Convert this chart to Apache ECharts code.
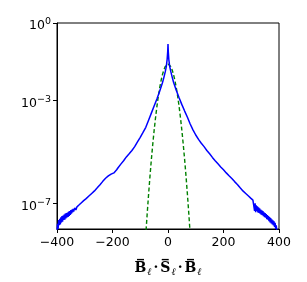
<!DOCTYPE html>
<html><head><meta charset="utf-8">
<script src="https://cdn.jsdelivr.net/npm/echarts@6/dist/echarts.min.js"></script>
<style>html,body{margin:0;padding:0;background:#fff}#c{width:307px;height:282px}</style>
</head><body><div id="c"></div>
<script>
var xTicks = [-400, -200, 0, 200, 400];
var yTickValues = [1, 1e-3, 1e-7];

var blueX = [-400,-398,-396,-394,-392,-390,-388,-386,-384,-382,-380,-378,-376,-374,-372,-370,-368,-366,-364,-362,-360,-358,-356,-354,-352,-350,-348,-346,-344,-342,-340,-336,-332,-328,-324,-320,-316,-312,-308,-304,-300,-295,-290,-285,-280,-275,-270,-265,-260,-255,-250,-245,-240,-235,-230,-225,-220,-215,-210,-205,-200,-195,-190,-185,-180,-170,-160,-150,-140,-130,-120,-110,-100,-90,-80,-70,-60,-50,-40,-30,-20,-15,-10,-6,-3,-1,0,1,3,6,10,15,20,30,40,50,60,70,80,90,100,110,120,130,140,150,160,170,180,190,200,210,220,230,240,250,260,270,275,280,285,290,294,298,302,306,308,310,312,314,316,318,320,322,324,326,328,330,332,334,336,338,340,342,344,346,348,350,352,354,356,358,360,362,364,366,368,370,372,374,376,378,380,382,384,386,388,390,392,394];
var blueY = [7.9e-9,1.58e-8,1.0e-8,2.24e-8,1.41e-8,2.51e-8,1.51e-8,2.82e-8,1.78e-8,3.16e-8,1.91e-8,3.31e-8,2.24e-8,3.63e-8,2.29e-8,3.98e-8,2.57e-8,4.17e-8,2.82e-8,4.37e-8,2.95e-8,4.79e-8,3.24e-8,5.01e-8,3.55e-8,5.37e-8,3.98e-8,5.62e-8,4.47e-8,6.03e-8,4.79e-8,6.61e-8,5.50e-8,7.24e-8,7.24e-8,8.71e-8,8.51e-8,1.05e-7,1.07e-7,1.26e-7,1.38e-7,1.51e-7,1.66e-7,1.91e-7,2.09e-7,2.40e-7,2.75e-7,3.02e-7,3.47e-7,3.98e-7,4.68e-7,5.25e-7,6.03e-7,7.08e-7,8.32e-7,9.33e-7,1.05e-6,1.15e-6,1.26e-6,1.35e-6,1.41e-6,1.51e-6,1.70e-6,2.0e-6,2.40e-6,3.31e-6,4.47e-6,6.31e-6,8.32e-6,1.12e-5,1.58e-5,2.40e-5,3.63e-5,5.62e-5,8.91e-5,1.66e-4,3.16e-4,6.03e-4,1.12e-3,2.24e-3,4.79e-3,7.59e-3,1.26e-2,2.09e-2,3.98e-2,7.94e-2,0.151,7.94e-2,3.80e-2,2.09e-2,1.32e-2,7.94e-3,5.01e-3,2.40e-3,1.26e-3,6.76e-4,3.80e-4,2.19e-4,1.20e-4,7.08e-5,4.47e-5,3.02e-5,2.14e-5,1.58e-5,1.12e-5,8.32e-6,6.03e-6,4.47e-6,3.39e-6,2.57e-6,2.0e-6,1.51e-6,1.17e-6,9.12e-7,6.92e-7,5.37e-7,3.98e-7,3.02e-7,2.75e-7,2.40e-7,2.19e-7,1.91e-7,1.82e-7,1.58e-7,1.51e-7,1.32e-7,1.45e-7,1.12e-7,5.01e-8,1.0e-7,4.47e-8,8.32e-8,5.01e-8,7.59e-8,4.37e-8,6.92e-8,4.17e-8,6.31e-8,3.98e-8,5.62e-8,3.63e-8,5.25e-8,3.47e-8,5.01e-8,3.16e-8,4.47e-8,2.88e-8,4.17e-8,2.75e-8,3.80e-8,2.40e-8,3.47e-8,2.29e-8,3.16e-8,2.0e-8,2.88e-8,1.82e-8,2.63e-8,1.66e-8,2.40e-8,1.51e-8,2.19e-8,1.38e-8,2.0e-8,1.20e-8,1.74e-8,1.0e-8,1.38e-8,8.91e-9,6.31e-9];

var greenX = [-85,-80,-75,-70,-65,-60,-55,-50,-45,-40,-35,-30,-25,-20,-15,-10,-5,0,5,10,15,20,25,30,35,40,45,50,55,60,65,70,75,80,85];
var greenY = [8.7e-10,6.2e-9,3.9e-8,2.2e-7,1.10e-6,4.9e-6,1.91e-5,6.7e-5,2.07e-4,5.7e-4,1.39e-3,3.0e-3,5.8e-3,9.9e-3,1.50e-2,2.03e-2,2.42e-2,2.57e-2,2.42e-2,2.03e-2,1.50e-2,9.9e-3,5.8e-3,3.0e-3,1.39e-3,5.7e-4,2.07e-4,6.7e-5,1.91e-5,4.9e-6,1.10e-6,2.2e-7,3.9e-8,6.2e-9,8.7e-10];

function pairs(xs, ys){ return xs.map(function(x,i){ return [x, ys[i]]; }); }
function minus(v){ return v < 0 ? '\u2212' + Math.abs(v) : String(v); }

var chart = echarts.init(document.getElementById('c'), null, {renderer: 'canvas'});
chart.setOption({
  animation: false,
  backgroundColor: '#fff',
  grid: {left: 57, right: 28, top: 23, bottom: 51, show: true, borderColor: '#000', borderWidth: 1, backgroundColor: 'transparent'},
  xAxis: {
    type: 'value', min: -400, max: 400, interval: 200,
    axisLine: {onZero: false, lineStyle: {color: '#000', width: 1}},
    axisTick: {show: true, length: 4, lineStyle: {color: '#000'}},
    splitLine: {show: false},
    axisLabel: {color: '#000', fontSize: 12.5, fontFamily: 'DejaVu Sans', margin: 7,
      formatter: function(v){ return minus(v); }},
    name: '{b|B\u0305}{s|\u2113}{d|\u00b7}{b|S\u0305}{s|\u2113}{d|\u00b7}{b|B\u0305}{s|\u2113}',
    nameLocation: 'middle', nameGap: 31,
    nameTextStyle: {rich: {
      b: {fontFamily: 'DejaVu Serif', fontWeight: 'bold', fontSize: 14, color: '#000', padding: [0,1,0,1]},
      s: {fontFamily: 'DejaVu Serif', fontStyle: 'italic', fontSize: 10, color: '#000', padding: [7,1,0,0]},
      d: {fontFamily: 'DejaVu Serif', fontWeight: 'bold', fontSize: 14, color: '#000', padding: [0,1,0,1]}
    }}
  },
  yAxis: {
    type: 'log', logBase: 10, min: 1e-8, max: 1,
    axisLine: {onZero: false, lineStyle: {color: '#000', width: 1}},
    axisTick: {show: true, length: 4, lineStyle: {color: '#000'}, customValues: yTickValues},
    splitLine: {show: false},
    minorTick: {show: false},
    axisLabel: {color: '#000', margin: 6, customValues: yTickValues,
      formatter: function(v){
        var e = Math.round(Math.log(v) / Math.LN10);
        return '{b|10}{s|' + minus(e) + '}';
      },
      rich: {
        b: {fontFamily: 'DejaVu Sans', fontSize: 12.5, color: '#000', padding: [6,0,0,0]},
        s: {fontFamily: 'DejaVu Sans', fontSize: 9.5, color: '#000', padding: [0,0,2,0]}
      }
    }
  },
  series: [
    {type: 'line', data: pairs(greenX, greenY), showSymbol: false, clip: true,
     lineStyle: {color: '#008000', width: 1.4, type: [4, 2.5]}, z: 2},
    {type: 'line', data: pairs(blueX, blueY), showSymbol: false, clip: true,
     lineStyle: {color: '#0000ff', width: 1.5}, z: 3}
  ]
});
</script></body></html>
